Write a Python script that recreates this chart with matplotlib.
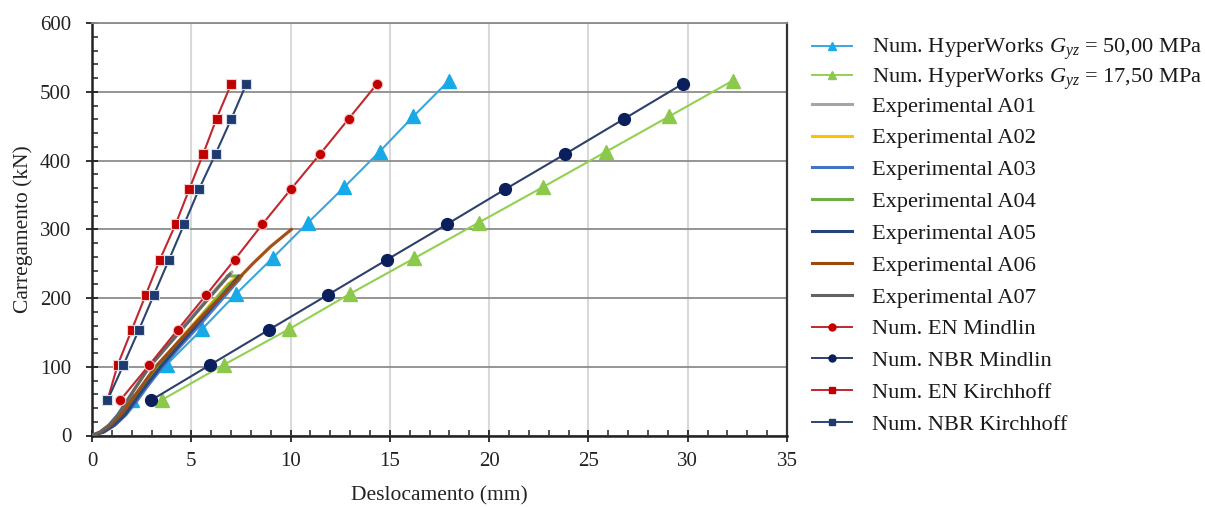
import matplotlib
matplotlib.use("Agg")
import matplotlib.pyplot as plt
from matplotlib.lines import Line2D
from matplotlib.ticker import MultipleLocator

plt.rcParams['font.family'] = ['Liberation Serif', 'DejaVu Serif']
plt.rcParams['mathtext.fontset'] = 'custom'
plt.rcParams['mathtext.rm'] = 'Liberation Serif'
plt.rcParams['mathtext.it'] = 'Liberation Serif:italic'

# ---------------- data ----------------
num_load = [51.2, 102.4, 153.6, 204.8, 256.0, 307.2, 358.4, 409.6, 460.8, 512.0]
hw_load = [51.6, 103.2, 154.8, 206.4, 258.0, 309.6, 361.2, 412.8, 464.4, 516.0]

hw50_x = [1.99, 3.76, 5.55, 7.27, 9.09, 10.88, 12.70, 14.48, 16.19, 17.97]
hw175_x = [3.51, 6.66, 9.93, 13.01, 16.24, 19.47, 22.70, 25.89, 29.08, 32.26]
en_mindlin_x = [1.42, 2.88, 4.31, 5.76, 7.19, 8.58, 10.02, 11.49, 12.93, 14.37]
nbr_mindlin_x = [2.97, 5.93, 8.90, 11.89, 14.87, 17.87, 20.82, 23.84, 26.81, 29.78]
en_kirch_x = [0.78, 1.29, 2.00, 2.71, 3.42, 4.21, 4.90, 5.60, 6.27, 7.02]
nbr_kirch_x = [0.78, 1.58, 2.36, 3.12, 3.88, 4.64, 5.39, 6.22, 7.02, 7.78]

a01_x = [0, 0.40, 0.85, 1.30, 1.75, 2.20, 2.85, 3.75, 4.65, 5.55, 6.45, 7.05]
a01_y = [0, 5, 15, 30, 50, 70, 100, 130, 160, 190, 220, 238]
a02_x = [0, 0.50, 1.00, 1.50, 2.00, 2.50, 3.25, 4.15, 5.05, 5.95, 6.85, 7.25]
a02_y = [0, 5, 15, 30, 50, 70, 100, 130, 160, 190, 220, 230]
a03_x = [0, 0.60, 1.15, 1.70, 2.25, 2.75, 3.55, 4.45, 5.40, 6.30, 7.20, 7.45]
a03_y = [0, 5, 15, 30, 50, 70, 100, 130, 160, 190, 220, 228]
a04_x = [0, 0.50, 1.05, 1.55, 2.05, 2.55, 3.30, 4.20, 5.10, 6.00, 6.90, 7.55, 6.80]
a04_y = [0, 5, 15, 30, 50, 70, 100, 130, 160, 190, 220, 232, 232]
a05_x = [0, 0.55, 1.10, 1.65, 2.15, 2.65, 3.45, 4.35, 5.25, 6.15, 7.05, 7.40]
a05_y = [0, 5, 15, 30, 50, 70, 100, 130, 160, 190, 220, 232]
a06_x = [0, 0.45, 0.95, 1.45, 1.95, 2.45, 3.20, 4.15, 5.10, 6.10, 7.10, 8.10, 9.00, 10.05]
a06_y = [0, 5, 15, 30, 50, 70, 100, 130, 160, 190, 220, 250, 275, 300]
a07_x = [0, 0.40, 0.85, 1.30, 1.75, 2.20, 2.90, 3.80, 4.70, 5.60, 6.50, 6.95]
a07_y = [0, 5, 15, 30, 50, 70, 100, 130, 160, 190, 220, 235]

x_ticks = [0, 5, 10, 15, 20, 25, 30, 35]
y_ticks = [0, 100, 200, 300, 400, 500, 600]

# ---------------- figure ----------------
fig = plt.figure(figsize=(12.05, 5.07), dpi=100)
ax = fig.add_axes([92 / 1205, 1 - 435.5 / 507, (787 - 92) / 1205, (435.5 - 23) / 507])

c_hw50_l, c_hw50_m = '#3AA6DC', '#18AAE8'
c_hw175_l, c_hw175_m = '#92D050', '#8CC84B'
c_red_l, c_red_m = '#C0282D', '#C00000'
c_navy_l, c_navy_m = '#2F3F6B', '#0A1F5C'
c_nk_l, c_nk_m = '#2E4470', '#1F3A6E'

handles = []
ax.plot(hw50_x, hw_load, '-', color=c_hw50_l, lw=1.5, marker='^', ms=10.5,
        mfc=c_hw50_m, mec=c_hw50_m, zorder=3)
handles.append(Line2D([], [], color=c_hw50_l, lw=1.4, marker='^', ms=5.5, mfc=c_hw50_m, mec=c_hw50_m))
ax.plot(hw175_x, hw_load, '-', color=c_hw175_l, lw=1.5, marker='^', ms=10.5,
        mfc=c_hw175_m, mec=c_hw175_m, zorder=3)
handles.append(Line2D([], [], color=c_hw175_l, lw=1.4, marker='^', ms=5.5, mfc=c_hw175_m, mec=c_hw175_m))

exp_series = [
    (a01_x, a01_y, '#A5A5A5'),
    (a02_x, a02_y, '#FFC000'),
    (a03_x, a03_y, '#4472C4'),
    (a04_x, a04_y, '#70AD47'),
    (a05_x, a05_y, '#264478'),
    (a06_x, a06_y, '#9E480E'),
    (a07_x, a07_y, '#636363'),
]
for xs, ys, c in exp_series:
    ax.plot(xs, ys, '-', color=c, lw=2.3, zorder=3, solid_capstyle='round', alpha=0.95)
    handles.append(Line2D([], [], color=c, lw=2.2))

ax.plot(en_mindlin_x, num_load, '-', color=c_red_l, lw=1.5, marker='o', ms=7.5,
        mfc=c_red_m, mec='#F4C7C3', mew=0.8, zorder=4)
handles.append(Line2D([], [], color=c_red_l, lw=1.4, marker='o', ms=5, mfc=c_red_m, mec=c_red_m))
ax.plot(nbr_mindlin_x, num_load, '-', color=c_navy_l, lw=1.5, marker='o', ms=8.5,
        mfc=c_navy_m, mec=c_navy_m, zorder=4)
handles.append(Line2D([], [], color=c_navy_l, lw=1.4, marker='o', ms=5, mfc=c_navy_m, mec=c_navy_m))
ax.plot(en_kirch_x, num_load, '-', color=c_red_l, lw=1.5, marker='s', ms=7.5,
        mfc=c_red_m, mec='#F4D0CC', mew=0.8, zorder=4)
handles.append(Line2D([], [], color=c_red_l, lw=1.4, marker='s', ms=5, mfc=c_red_m, mec=c_red_m))
ax.plot(nbr_kirch_x, num_load, '-', color=c_nk_l, lw=1.5, marker='s', ms=7.5,
        mfc=c_nk_m, mec='#D6E0EE', mew=0.8, zorder=4)
handles.append(Line2D([], [], color=c_nk_l, lw=1.4, marker='s', ms=5, mfc=c_nk_m, mec=c_nk_m))

labels = [
    r'Num. HyperWorks $G_{yz}$ = 50,00 MPa',
    r'Num. HyperWorks $G_{yz}$ = 17,50 MPa',
    'Experimental A01', 'Experimental A02', 'Experimental A03', 'Experimental A04',
    'Experimental A05', 'Experimental A06', 'Experimental A07',
    'Num. EN Mindlin', 'Num. NBR Mindlin', 'Num. EN Kirchhoff', 'Num. NBR Kirchhoff',
]

# ---------------- axes styling ----------------
ax.set_xlim(0, 35)
ax.set_ylim(0, 600)
ax.set_xticks(x_ticks)
ax.set_yticks(y_ticks)
ax.xaxis.set_minor_locator(MultipleLocator(1))
ax.yaxis.set_minor_locator(MultipleLocator(20))
ax.tick_params(which='major', direction='inout', length=8, width=1.3, labelsize=15,
               colors='#222222')
ax.tick_params(axis='y', which='major', pad=11)
ax.tick_params(axis='x', which='major', pad=8)
ax.tick_params(which='minor', direction='in', length=4, width=1.1, colors='#222222')

ax.yaxis.grid(True, which='major', color='#8C8C8C', lw=1.3)
ax.xaxis.grid(True, which='major', color='#D9D9D9', lw=1.5)
ax.set_axisbelow(True)

for s in ['left', 'bottom']:
    ax.spines[s].set_color('#222222')
    ax.spines[s].set_linewidth(1.8)
ax.spines['right'].set_color('#333333')
ax.spines['right'].set_linewidth(1.6)
ax.spines['top'].set_color('#8C8C8C')
ax.spines['top'].set_linewidth(1.3)

ax.set_xlabel('Deslocamento (mm)', fontsize=15.5, color='#222222', labelpad=11)
ax.set_ylabel('Carregamento (kN)', fontsize=15.5, color='#222222', labelpad=5)

common = dict(loc='upper left', frameon=False, fontsize=16.1, handlelength=1.8,
              handletextpad=0.9, borderpad=0, borderaxespad=0)
leg1 = fig.legend(handles[:2], labels[:2], bbox_to_anchor=(812 / 1205, 1 - 37 / 507),
                  labelspacing=0.18, **common)
leg2 = fig.legend(handles[2:], labels[2:], bbox_to_anchor=(812 / 1205, 1 - 96 / 507),
                  labelspacing=0.5, **common)
for lg in (leg1, leg2):
    for t in lg.get_texts():
        t.set_color('#1a1a1a')

fig.savefig('out.png', dpi=100)
